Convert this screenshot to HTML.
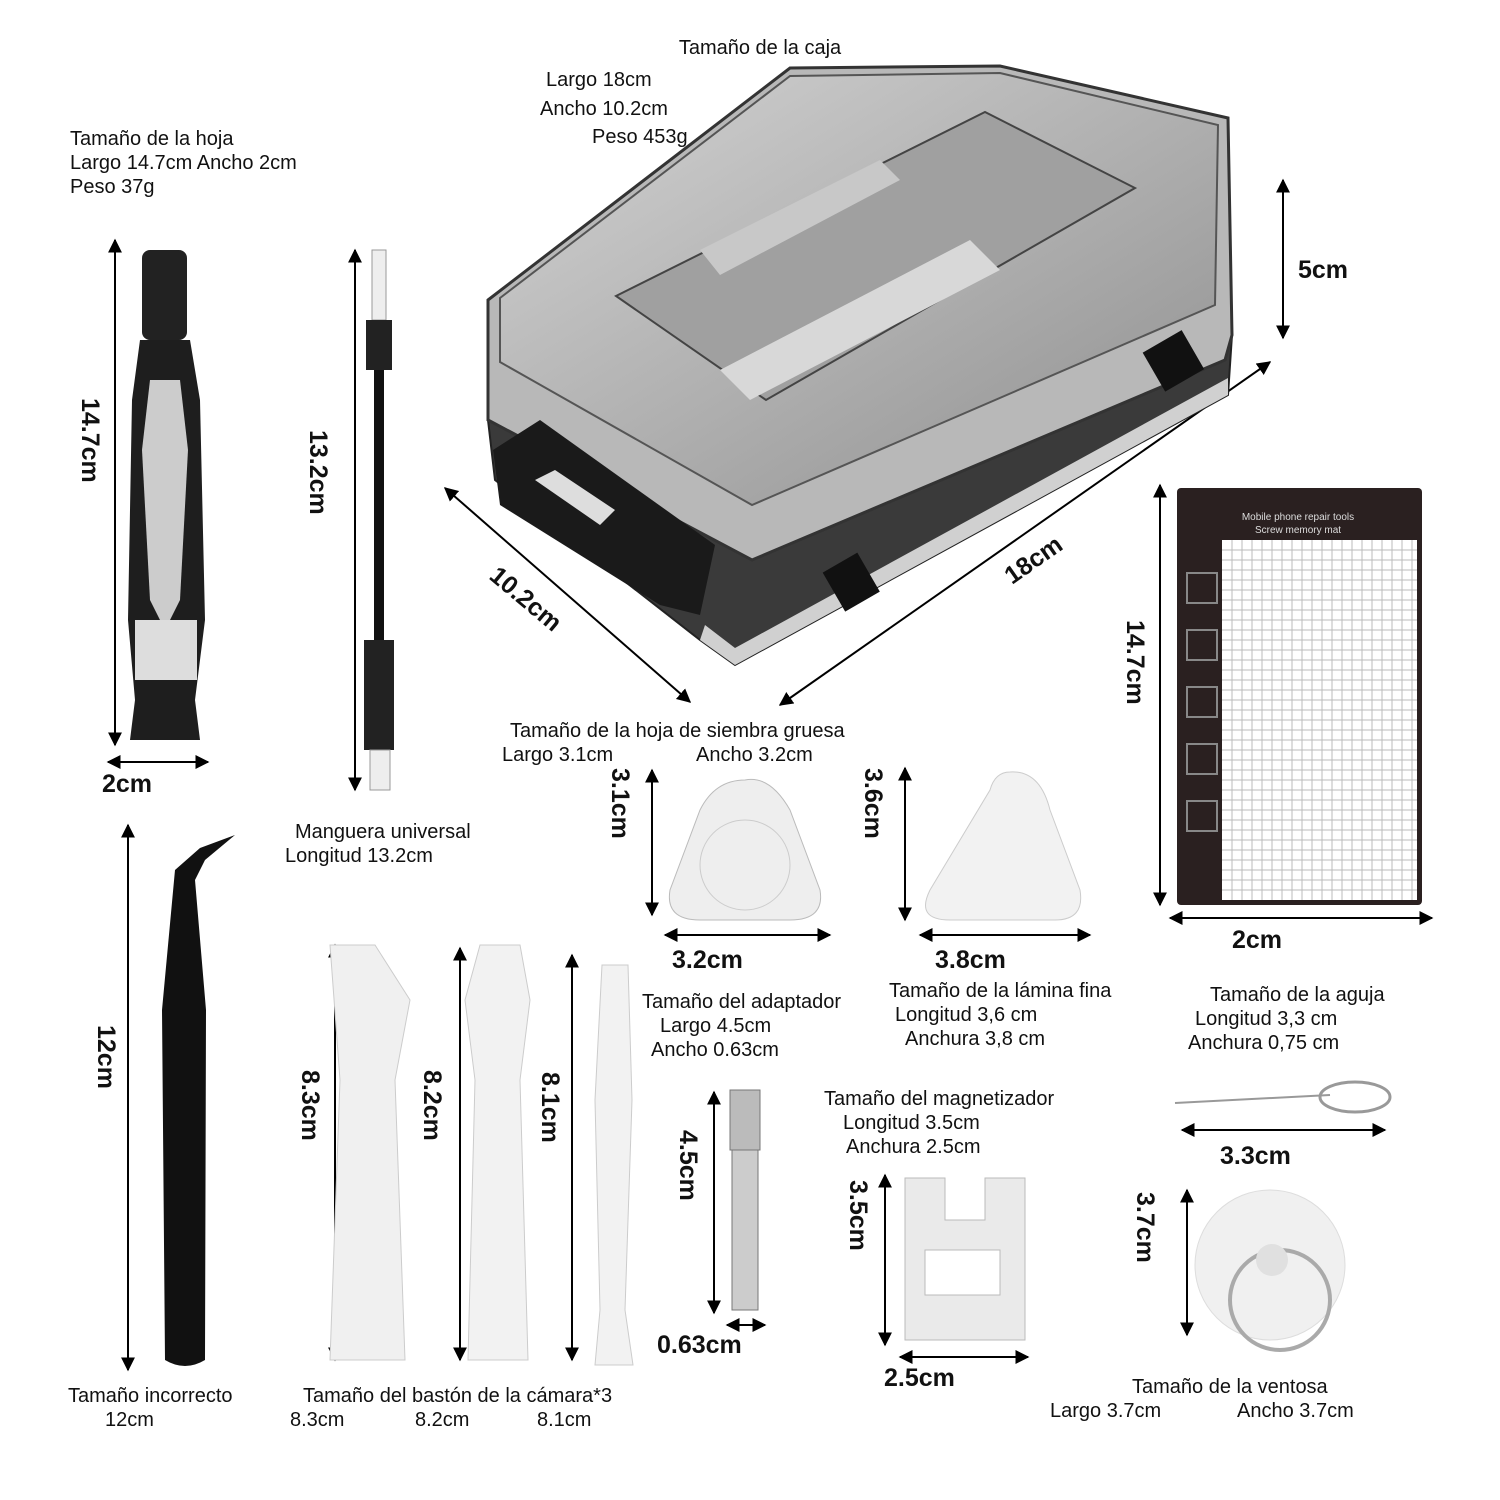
<!DOCTYPE html>
<html><head><meta charset="utf-8"><style>
html,body{margin:0;padding:0;background:#fff;}
svg{display:block;}
text{font-family:"Liberation Sans",Arial,sans-serif;fill:#111;}
.t{font-size:20px;}
.m{font-size:25px;font-weight:bold;}
</style></head><body>
<svg width="1500" height="1500" viewBox="0 0 1500 1500" xmlns="http://www.w3.org/2000/svg">
<defs>
<marker id="a" viewBox="0 0 10 10" refX="9" refY="5" markerWidth="7" markerHeight="7" orient="auto-start-reverse"><path d="M0,0 L10,5 L0,10 z" fill="#000"/></marker>
<linearGradient id="lid" x1="0" y1="0" x2="1" y2="1"><stop offset="0" stop-color="#d4d4d4"/><stop offset="1" stop-color="#8e8e8e"/></linearGradient>
</defs>
<g stroke="#000" stroke-width="2" marker-start="url(#a)" marker-end="url(#a)" fill="none">
<line x1="1283" y1="180" x2="1283" y2="338"/>
<line x1="780" y1="705" x2="1270" y2="362"/>
<line x1="445" y1="488" x2="690" y2="702"/>
<line x1="115" y1="240" x2="115" y2="745"/>
<line x1="108" y1="762" x2="208" y2="762"/>
<line x1="355" y1="250" x2="355" y2="790"/>
<line x1="128" y1="825" x2="128" y2="1370"/>
<line x1="335" y1="945" x2="335" y2="1360"/>
<line x1="460" y1="948" x2="460" y2="1360"/>
<line x1="572" y1="955" x2="572" y2="1360"/>
<line x1="652" y1="770" x2="652" y2="915"/>
<line x1="665" y1="935" x2="830" y2="935"/>
<line x1="905" y1="768" x2="905" y2="920"/>
<line x1="920" y1="935" x2="1090" y2="935"/>
<line x1="714" y1="1092" x2="714" y2="1313"/>
<line x1="727" y1="1325" x2="765" y2="1325"/>
<line x1="885" y1="1175" x2="885" y2="1345"/>
<line x1="900" y1="1357" x2="1028" y2="1357"/>
<line x1="1160" y1="485" x2="1160" y2="905"/>
<line x1="1170" y1="918" x2="1432" y2="918"/>
<line x1="1182" y1="1130" x2="1385" y2="1130"/>
<line x1="1187" y1="1190" x2="1187" y2="1335"/>
</g>
<!-- box -->
<polygon points="488,420 752,560 1232,335 1228,395 735,665 700,640 495,480" fill="#3a3a3a" stroke="#222" stroke-width="2"/>
<polygon points="700,640 735,665 1228,395 1228,378 735,648 705,625" fill="#d0d0d0"/>
<polygon points="488,300 790,68 1000,66 1228,118 1232,335 1225,360 752,560 488,420" fill="#b8b8b8" stroke="#333" stroke-width="3"/>
<polygon points="500,298 790,76 1000,73 1218,125 1215,305 752,505 500,362" fill="url(#lid)" stroke="#555" stroke-width="2"/>
<polygon points="616,296 985,112 1135,188 766,400" fill="#a0a0a0" stroke="#444" stroke-width="2"/>
<polygon points="720,370 970,240 1000,270 750,400" fill="#d8d8d8"/>
<polygon points="700,250 880,160 900,180 720,275" fill="#c8c8c8"/>
<polygon points="493,450 540,420 715,545 700,615 660,605 500,505" fill="#1a1a1a"/>
<polygon points="535,480 555,470 615,510 600,525" fill="#ddd"/>
<rect x="830" y="560" width="40" height="45" fill="#111" transform="rotate(-30 850 580)"/>
<rect x="1150" y="340" width="45" height="45" fill="#111" transform="rotate(-30 1170 360)"/>
<!-- screwdriver -->
<rect x="142" y="250" width="45" height="90" rx="8" fill="#222"/>
<path d="M140,340 L190,340 L200,400 L205,620 L195,700 L200,740 L130,740 L135,700 L128,620 L132,400 Z" fill="#1e1e1e"/>
<path d="M150,380 L180,380 L188,450 L180,600 L165,630 L150,600 L142,450 Z" fill="#ccc"/>
<rect x="135" y="620" width="62" height="60" fill="#ddd"/>
<!-- shaft -->
<rect x="372" y="250" width="14" height="70" fill="#eee" stroke="#999"/>
<rect x="366" y="320" width="26" height="50" fill="#222"/>
<rect x="374" y="370" width="10" height="270" fill="#111"/>
<rect x="364" y="640" width="30" height="110" fill="#222"/>
<rect x="370" y="750" width="20" height="40" fill="#eee" stroke="#999"/>
<!-- tweezers -->
<path d="M162,1010 L175,870 L200,848 L235,835 L205,860 L195,880 L206,1010 L205,1360 Q185,1372 165,1360 Z" fill="#111"/>
<!-- spudgers -->
<path d="M330,945 L375,945 L410,1000 L395,1080 L405,1360 L330,1360 L340,1080 Z" fill="#f0f0f0" stroke="#ccc"/>
<path d="M480,945 L520,945 L530,1000 L520,1080 L528,1360 L468,1360 L475,1080 L465,1000 Z" fill="#f2f2f2" stroke="#ccc"/>
<path d="M602,965 L628,965 L632,1100 L625,1310 L633,1365 L595,1365 L600,1310 L595,1100 Z" fill="#f2f2f2" stroke="#ccc"/>
<!-- picks -->
<path d="M745,780 Q770,775 790,810 L820,890 Q825,920 790,920 L700,920 Q665,920 670,890 L700,810 Q715,780 745,780Z" fill="#eee" stroke="#bbb"/>
<circle cx="745" cy="865" r="45" fill="none" stroke="#ccc"/>
<path d="M1010,772 Q1040,770 1050,810 L1080,890 Q1085,920 1055,920 L950,920 Q915,920 930,890 L990,790 Q995,772 1010,772Z" fill="#f2f2f2" stroke="#ccc"/>
<!-- adapter -->
<rect x="730" y="1090" width="30" height="60" fill="#bbb" stroke="#777"/>
<rect x="732" y="1150" width="26" height="160" fill="#ccc" stroke="#777"/>
<!-- magnetizer -->
<path d="M905,1178 L945,1178 L945,1220 L985,1220 L985,1178 L1025,1178 L1025,1340 L905,1340 Z" fill="#eaeaea" stroke="#bbb"/>
<rect x="925" y="1250" width="75" height="45" fill="#fff" stroke="#bbb"/>
<!-- mat -->
<rect x="1177" y="488" width="245" height="417" rx="4" fill="#2a2020"/>
<rect x="1222" y="540" width="195" height="360" fill="#fff"/>
<g stroke="#bbb" stroke-width="1">
<path d="M1232,540V900M1242,540V900M1252,540V900M1262,540V900M1272,540V900M1282,540V900M1292,540V900M1302,540V900M1312,540V900M1322,540V900M1332,540V900M1342,540V900M1352,540V900M1362,540V900M1372,540V900M1382,540V900M1392,540V900M1402,540V900M1412,540V900"/>
<path d="M1222,550H1417M1222,560H1417M1222,570H1417M1222,580H1417M1222,590H1417M1222,600H1417M1222,610H1417M1222,620H1417M1222,630H1417M1222,640H1417M1222,650H1417M1222,660H1417M1222,670H1417M1222,680H1417M1222,690H1417M1222,700H1417M1222,710H1417M1222,720H1417M1222,730H1417M1222,740H1417M1222,750H1417M1222,760H1417M1222,770H1417M1222,780H1417M1222,790H1417M1222,800H1417M1222,810H1417M1222,820H1417M1222,830H1417M1222,840H1417M1222,850H1417M1222,860H1417M1222,870H1417M1222,880H1417M1222,890H1417"/>
</g>
<g fill="none" stroke="#888" stroke-width="2">
<rect x="1187" y="573" width="30" height="30"/><rect x="1187" y="630" width="30" height="30"/><rect x="1187" y="687" width="30" height="30"/><rect x="1187" y="744" width="30" height="30"/><rect x="1187" y="801" width="30" height="30"/>
</g>
<text x="1298" y="520" font-size="10" text-anchor="middle" style="fill:#ddd">Mobile phone repair tools</text>
<text x="1298" y="533" font-size="10" text-anchor="middle" style="fill:#ddd">Screw memory mat</text>
<!-- needle -->
<line x1="1175" y1="1103" x2="1330" y2="1095" stroke="#999" stroke-width="2"/>
<ellipse cx="1355" cy="1097" rx="35" ry="15" fill="none" stroke="#999" stroke-width="3"/>
<!-- suction cup -->
<circle cx="1270" cy="1265" r="75" fill="#f0f0f0" stroke="#ddd"/>
<circle cx="1280" cy="1300" r="50" fill="none" stroke="#aaa" stroke-width="4"/>
<circle cx="1272" cy="1260" r="16" fill="#e0e0e0"/>
<!-- text -->
<text class="t" x="760" y="54" text-anchor="middle">Tamaño de la caja</text>
<text class="t" x="546" y="86">Largo 18cm</text>
<text class="t" x="540" y="115">Ancho 10.2cm</text>
<text class="t" x="592" y="143">Peso 453g</text>
<text class="t" x="70" y="145">Tamaño de la hoja</text>
<text class="t" x="70" y="169">Largo 14.7cm   Ancho 2cm</text>
<text class="t" x="70" y="193">Peso 37g</text>
<text class="m" x="1298" y="278">5cm</text>
<text class="m" transform="translate(1012,585) rotate(-35)">18cm</text>
<text class="m" transform="translate(488,578) rotate(40)">10.2cm</text>
<text class="m" transform="translate(82,398) rotate(90)">14.7cm</text>
<text class="m" x="102" y="792">2cm</text>
<text class="m" transform="translate(310,430) rotate(90)">13.2cm</text>
<text class="t" x="295" y="838">Manguera universal</text>
<text class="t" x="285" y="862">Longitud 13.2cm</text>
<text class="m" transform="translate(98,1025) rotate(90)">12cm</text>
<text class="t" x="68" y="1402">Tamaño incorrecto</text>
<text class="t" x="105" y="1426">12cm</text>
<text class="m" transform="translate(302,1070) rotate(90)">8.3cm</text>
<text class="m" transform="translate(424,1070) rotate(90)">8.2cm</text>
<text class="m" transform="translate(542,1072) rotate(90)">8.1cm</text>
<text class="t" x="303" y="1402">Tamaño del bastón de la cámara*3</text>
<text class="t" x="290" y="1426">8.3cm</text>
<text class="t" x="415" y="1426">8.2cm</text>
<text class="t" x="537" y="1426">8.1cm</text>
<text class="t" x="510" y="737">Tamaño de la hoja de siembra gruesa</text>
<text class="t" x="502" y="761">Largo 3.1cm</text>
<text class="t" x="696" y="761">Ancho 3.2cm</text>
<text class="m" transform="translate(612,768) rotate(90)">3.1cm</text>
<text class="m" x="672" y="968">3.2cm</text>
<text class="m" transform="translate(865,768) rotate(90)">3.6cm</text>
<text class="m" x="935" y="968">3.8cm</text>
<text class="t" x="642" y="1008">Tamaño del adaptador</text>
<text class="t" x="660" y="1032">Largo 4.5cm</text>
<text class="t" x="651" y="1056">Ancho 0.63cm</text>
<text class="t" x="889" y="997">Tamaño de la lámina fina</text>
<text class="t" x="895" y="1021">Longitud 3,6 cm</text>
<text class="t" x="905" y="1045">Anchura 3,8 cm</text>
<text class="m" transform="translate(680,1130) rotate(90)">4.5cm</text>
<text class="m" x="657" y="1353">0.63cm</text>
<text class="t" x="824" y="1105">Tamaño del magnetizador</text>
<text class="t" x="843" y="1129">Longitud 3.5cm</text>
<text class="t" x="846" y="1153">Anchura 2.5cm</text>
<text class="m" transform="translate(850,1180) rotate(90)">3.5cm</text>
<text class="m" x="884" y="1386">2.5cm</text>
<text class="m" transform="translate(1127,620) rotate(90)">14.7cm</text>
<text class="m" x="1232" y="948">2cm</text>
<text class="t" x="1210" y="1001">Tamaño de la aguja</text>
<text class="t" x="1195" y="1025">Longitud 3,3 cm</text>
<text class="t" x="1188" y="1049">Anchura 0,75 cm</text>
<text class="m" x="1220" y="1164">3.3cm</text>
<text class="m" transform="translate(1137,1192) rotate(90)">3.7cm</text>
<text class="t" x="1132" y="1393">Tamaño de la ventosa</text>
<text class="t" x="1050" y="1417">Largo 3.7cm</text>
<text class="t" x="1237" y="1417">Ancho 3.7cm</text>
</svg>
</body></html>
